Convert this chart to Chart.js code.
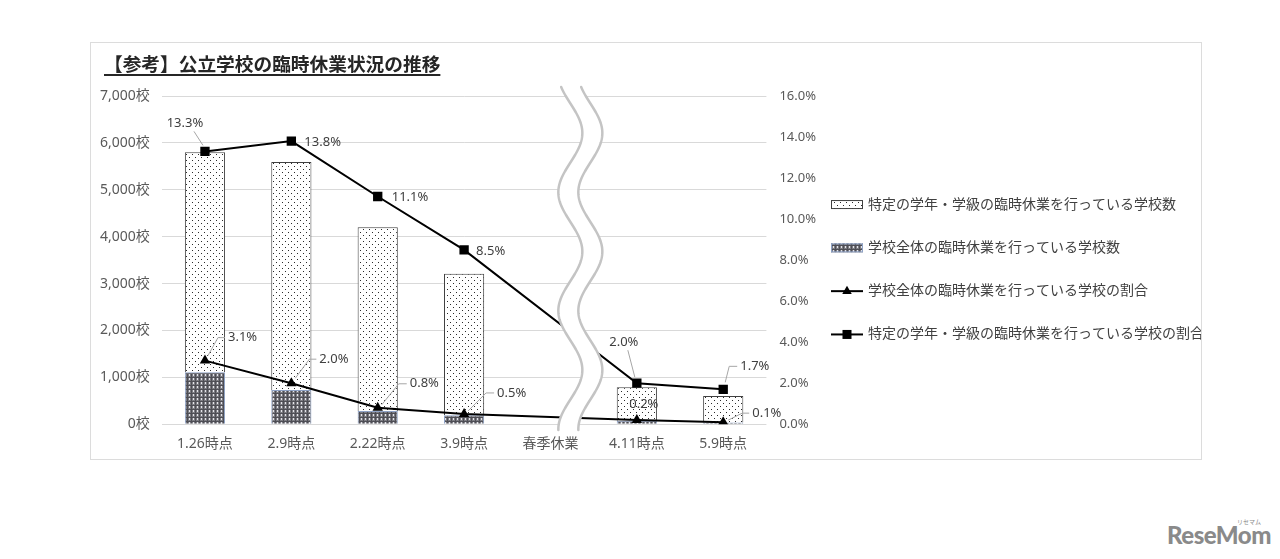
<!DOCTYPE html>
<html lang="ja">
<head>
<meta charset="utf-8">
<script src="https://cdn.jsdelivr.net/npm/chart.js@4.4.1/dist/chart.umd.min.js"></script>
<style>
  html, body { margin: 0; padding: 0; background: #fff; }
  body { width: 1280px; height: 559px; position: relative; overflow: hidden; font-family: 'Noto Sans', 'Noto Sans CJK JP', sans-serif; }
  #frame { position: absolute; left: 90px; top: 42px; width: 1110px; height: 416px; border: 1px solid #dcdcdc; }
  #wrap { position: absolute; left: 80px; top: 42px; width: 1122px; height: 418px; }
  #title { position: absolute; left: 104px; top: 52px; font-family: 'Noto Sans CJK JP', sans-serif; font-size: 18.7px; line-height: 22px; color: #262626; font-weight: bold; text-decoration: underline; text-underline-offset: 3px; text-decoration-thickness: 1.5px; white-space: nowrap; }
  #logo { position: absolute; left: 1167px; top: 521px; font-family: Lato, 'Noto Sans', sans-serif; font-weight: 900; font-size: 24px; line-height: 28px; color: #8a8a8a; letter-spacing: -0.5px; }
  #logo small { position: absolute; left: 70px; top: -3px; font-family: 'Noto Sans CJK JP', sans-serif; font-size: 6px; line-height: 8px; font-weight: normal; letter-spacing: 0; }
</style>
</head>
<body>
<div id="frame"></div>
<div id="wrap"><canvas id="c"></canvas></div>
<div id="title">【参考】公立学校の臨時休業状況の推移</div>
<div id="logo">ReseMom<small>リセマム</small></div>
<script>
const categories = ['1.26時点', '2.9時点', '2.22時点', '3.9時点', '春季休業', '4.11時点', '5.9時点'];

// 学校全体の臨時休業（棒の下段）と特定の学年・学級（上段）の学校数
const wholeCounts = [1110, 730, 280, 190, null, 75, 35];
const partialCounts = [4690, 4860, 3920, 3020, null, 715, 565];

// 割合（%）
const wholeRates = [3.1, 2.0, 0.8, 0.5, null, 0.2, 0.1];
const partialRates = [13.3, 13.8, 11.1, 8.5, null, 2.0, 1.7];

const countTicks = [0, 1000, 2000, 3000, 4000, 5000, 6000, 7000];
const rateTicks = [0, 2, 4, 6, 8, 10, 12, 14, 16];

const seriesNames = [
    '学校全体の臨時休業を行っている学校数',
    '特定の学年・学級の臨時休業を行っている学校数',
    '学校全体の臨時休業を行っている学校の割合',
    '特定の学年・学級の臨時休業を行っている学校の割合'
];
const legendRank = [1, 0, 2, 3];

// ラベル位置（点からのずれ）と引き出し線
const wholeRateLabels = [
    { dx: 23, dy: -23, align: 'left', lead: [[20, -23], [13, -23], [3, -5]] },
    { dx: 28, dy: -24, align: 'left', lead: [[25, -24], [18, -24], [4, -5]] },
    { dx: 32, dy: -24, align: 'left', lead: [[29, -24], [21, -24], [4, -3]] },
    { dx: 33, dy: -21, align: 'left', lead: [[30, -21], [22, -21], [4, -3]] },
    null,
    { dx: 7, dy: -16, align: 'center' },
    { dx: 29, dy: -9, align: 'left', lead: [[26, -9], [19, -9], [5, -2]] }
];
const partialRateLabels = [
    { dx: -20, dy: -28, align: 'center', lead: [[-11, -20], [-2, -6]] },
    { dx: 13, dy: 1, align: 'left' },
    { dx: 14, dy: 1, align: 'left' },
    { dx: 12, dy: 1, align: 'left' },
    null,
    { dx: -13, dy: -41, align: 'center', lead: [[-9, -33], [-2, -6]] },
    { dx: 17, dy: -23, align: 'left', lead: [[14, -23], [6, -23], [2, -7]] }
];

const FONT = "'Noto Sans', 'Noto Sans CJK JP', sans-serif";
const LEGEND_WIDTH = 369;
const LEGEND_SHIFT_X = -5;
const LEGEND_SHIFT_Y = -6;

const canvas = document.getElementById('c');
const ctx0 = canvas.getContext('2d');

function makePattern(size, draw) {
    const t = document.createElement('canvas');
    t.width = size; t.height = size;
    draw(t.getContext('2d'));
    return ctx0.createPattern(t, 'repeat');
}

// 細かい点（特定の学年・学級）
const dotPattern = makePattern(6, g => {
    g.fillStyle = '#fff';
    g.fillRect(0, 0, 6, 6);
    g.fillStyle = '#2a2a2a';
    g.fillRect(1, 1, 1, 1);
    g.fillRect(4, 4, 1, 1);
});
// 網目（学校全体）
const meshPattern = makePattern(4, g => {
    g.fillStyle = '#7c7c82';
    g.fillRect(0, 0, 4, 4);
    g.fillStyle = '#4e4e55';
    g.fillRect(0, 3, 4, 1);
    g.fillRect(3, 0, 1, 4);
    g.fillStyle = '#e4e4ea';
    g.fillRect(1, 0, 1, 2);
});

function drawTriangle(ctx, x, y, r) {
    ctx.beginPath();
    ctx.moveTo(x, y - r);
    ctx.lineTo(x + r * 0.866, y + r * 0.5);
    ctx.lineTo(x - r * 0.866, y + r * 0.5);
    ctx.closePath();
    ctx.fill();
}

// 凡例を広げる（右側の凡例は既定で幅が制限されるため）
const widenLegend = {
    id: 'widenLegend',
    beforeLayout(chart) {
        const lg = chart.legend;
        if (lg && !lg._widened) {
            const fit = lg.fit.bind(lg);
            lg.fit = function () { fit(); this.width = LEGEND_WIDTH; };
            lg._widened = true;
        }
    },
    afterLayout(chart) {
        const lg = chart.legend;
        lg.left += LEGEND_SHIFT_X;
        lg.right += 3;
        lg.top += LEGEND_SHIFT_Y;
        lg.bottom += LEGEND_SHIFT_Y;
    }
};

const springBreak = {
    id: 'springBreak',
    afterDatasetsDraw(chart) {
        const { ctx, chartArea: area } = chart;
        const xs = chart.scales.x;
        const step = xs.getPixelForValue(5) - xs.getPixelForValue(4);
        const left = xs.getPixelForValue(4) + step * 0.23;
        const gap = 20, amp = 12;
        const period = (area.bottom - area.top) * 0.361;
        const phase = area.top + 37;
        const yTop = area.top - 9, yBot = area.bottom + 6;
        const wave = y => left + amp * Math.cos(2 * Math.PI * (y - phase) / period);

        ctx.save();
        ctx.beginPath();
        for (let y = yTop; y <= yBot; y += 1) ctx.lineTo(wave(y), y);
        for (let y = yBot; y >= yTop; y -= 1) ctx.lineTo(wave(y) + gap, y);
        ctx.closePath();
        ctx.fillStyle = '#fff';
        ctx.fill();

        ctx.strokeStyle = '#c4c4c4';
        ctx.lineWidth = 2.5;
        ctx.lineCap = 'round';
        [0, gap].forEach(off => {
            ctx.beginPath();
            for (let y = yTop; y <= yBot; y += 1) ctx.lineTo(wave(y) + off, y);
            ctx.stroke();
        });
        ctx.restore();
    }
};

const rateLabels = {
    id: 'rateLabels',
    afterDatasetsDraw(chart) {
        const ctx = chart.ctx;
        const specs = { 2: wholeRateLabels, 3: partialRateLabels };
        ctx.save();
        ctx.font = '13px ' + FONT;
        ctx.textBaseline = 'middle';
        Object.keys(specs).forEach(di => {
            const meta = chart.getDatasetMeta(di);
            const values = chart.data.datasets[di].data;
            meta.data.forEach((pt, i) => {
                const s = specs[di][i];
                if (!s || values[i] == null) return;
                if (s.lead) {
                    ctx.strokeStyle = '#a6a6a6';
                    ctx.lineWidth = 1;
                    ctx.beginPath();
                    s.lead.forEach(([lx, ly], k) => {
                        if (k === 0) ctx.moveTo(pt.x + lx, pt.y + ly);
                        else ctx.lineTo(pt.x + lx, pt.y + ly);
                    });
                    ctx.stroke();
                }
                ctx.fillStyle = '#404040';
                ctx.textAlign = s.align;
                ctx.fillText(values[i].toFixed(1) + '%', pt.x + s.dx, pt.y + s.dy);
            });
        });
        ctx.restore();
    }
};

const legendSwatches = {
    id: 'legendSwatches',
    afterDraw(chart) {
        const lg = chart.legend;
        const ctx = chart.ctx;
        ctx.save();
        lg.legendItems.forEach((item, i) => {
            const hb = lg.legendHitBoxes[i];
            const x = hb.left, cx = x + 16, cy = hb.top + hb.height / 2;
            const di = item.datasetIndex;
            if (di === 0 || di === 1) {
                ctx.fillStyle = di === 0 ? meshPattern : dotPattern;
                ctx.fillRect(x, cy - 4.5, 32, 9);
                ctx.strokeStyle = di === 0 ? '#8ea2c6' : '#404040';
                ctx.lineWidth = 1;
                ctx.strokeRect(x + 0.5, cy - 4, 31, 8);
            } else {
                ctx.strokeStyle = '#000';
                ctx.lineWidth = 2;
                ctx.beginPath();
                ctx.moveTo(x, cy);
                ctx.lineTo(x + 32, cy);
                ctx.stroke();
                ctx.fillStyle = '#000';
                if (di === 2) drawTriangle(ctx, cx, cy, 5.5);
                else ctx.fillRect(cx - 4.5, cy - 4.5, 9, 9);
            }
        });
        ctx.restore();
    }
};

new Chart(canvas, {
    type: 'bar',
    data: {
        labels: categories,
        datasets: [
            {
                label: seriesNames[0],
                data: wholeCounts,
                backgroundColor: meshPattern,
                borderColor: '#8ea2c6',
                borderWidth: 1,
                yAxisID: 'y',
                stack: 'count',
                order: 1
            },
            {
                label: seriesNames[1],
                data: partialCounts,
                backgroundColor: dotPattern,
                borderColor: '#404040',
                borderWidth: 1,
                yAxisID: 'y',
                stack: 'count',
                order: 1
            },
            {
                type: 'line',
                label: seriesNames[2],
                data: wholeRates,
                borderColor: '#000',
                borderWidth: 2,
                pointStyle: 'triangle',
                pointRadius: 6,
                pointBackgroundColor: '#000',
                pointBorderColor: '#000',
                pointBorderWidth: 0,
                spanGaps: true,
                yAxisID: 'y2',
                order: 0
            },
            {
                type: 'line',
                label: seriesNames[3],
                data: partialRates,
                borderColor: '#000',
                borderWidth: 2,
                pointStyle: 'rect',
                pointRadius: 6.6,
                pointBackgroundColor: '#000',
                pointBorderColor: '#000',
                pointBorderWidth: 0,
                spanGaps: true,
                yAxisID: 'y2',
                order: 0
            }
        ]
    },
    options: {
        responsive: true,
        maintainAspectRatio: false,
        animation: false,
        layout: { padding: { left: 8, right: 4, top: 54, bottom: 5 } },
        datasets: { bar: { barPercentage: 0.465, categoryPercentage: 1 } },
        scales: {
            x: {
                stacked: true,
                grid: { display: false },
                border: { display: false },
                ticks: { color: '#595959', font: { family: FONT, size: 14 }, padding: 3 }
            },
            y: {
                stacked: true,
                min: 0,
                max: 7000,
                afterBuildTicks: axis => { axis.ticks = countTicks.map(v => ({ value: v })); },
                grid: { color: '#d9d9d9', lineWidth: 1, drawTicks: false },
                border: { display: false },
                ticks: {
                    color: '#595959',
                    font: { family: FONT, size: 14 },
                    padding: 12,
                    callback: v => v.toLocaleString('en-US') + '校'
                }
            },
            y2: {
                position: 'right',
                min: 0,
                max: 16,
                afterBuildTicks: axis => { axis.ticks = rateTicks.map(v => ({ value: v })); },
                grid: { display: false, drawTicks: false },
                border: { display: false },
                ticks: {
                    color: '#595959',
                    font: { family: FONT, size: 13 },
                    padding: 13,
                    callback: v => v.toFixed(1) + '%'
                }
            }
        },
        plugins: {
            tooltip: { enabled: false },
            legend: {
                position: 'right',
                align: 'center',
                labels: {
                    font: { family: FONT, size: 14 },
                    color: '#404040',
                    boxWidth: 30,
                    boxHeight: 36.3,
                    padding: 7,
                    sort: (a, b) => legendRank[a.datasetIndex] - legendRank[b.datasetIndex],
                    generateLabels: chart =>
                        Chart.defaults.plugins.legend.labels.generateLabels(chart).map(it => ({
                            ...it,
                            fillStyle: 'rgba(0,0,0,0)',
                            strokeStyle: 'rgba(0,0,0,0)',
                            lineWidth: 0
                        }))
                }
            }
        }
    },
    plugins: [widenLegend, springBreak, rateLabels, legendSwatches]
});
</script>
</body>
</html>
